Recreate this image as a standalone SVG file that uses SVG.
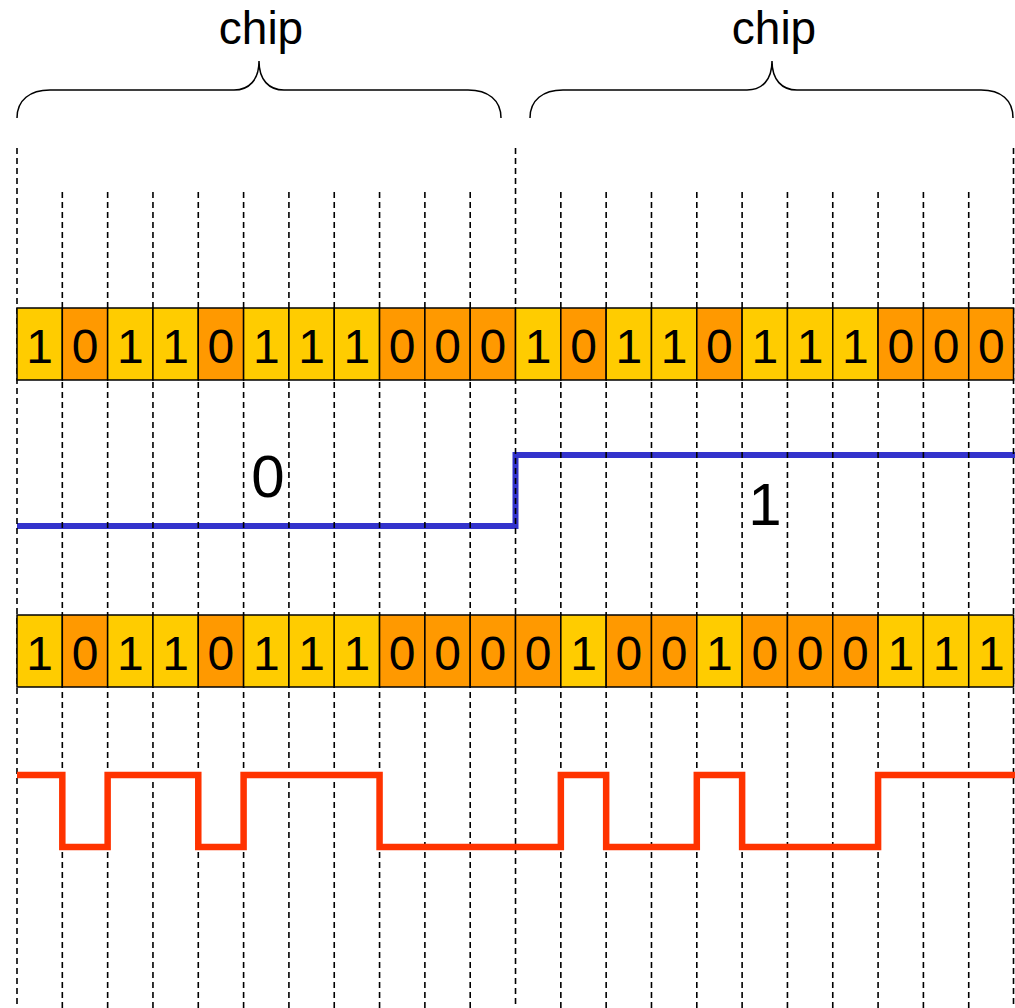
<svg xmlns="http://www.w3.org/2000/svg" width="1015" height="1008" viewBox="0 0 1015 1008">
<style>
text{font-family:"Liberation Sans",Arial,sans-serif;fill:#000;text-anchor:middle}
.bit{font-size:48px}
.lbl{font-size:60px}
.chip{font-size:46px}
.y{fill:#FFCC00;stroke:#000;stroke-width:1.5}
.o{fill:#FF9900;stroke:#000;stroke-width:1.5}
.dash{stroke:#000;stroke-width:1.6;stroke-dasharray:6,4;fill:none}
.brace{fill:none;stroke:#000;stroke-width:1.5}
</style>
<rect width="1015" height="1008" fill="#fff"/>
<g id="labels-top">
<text class="chip" x="261" y="44">chip</text>
<text class="chip" x="774" y="44">chip</text>
<path class="brace" d="M17,118 C17,100 30,90 50,90 L234,90 C249,90 259,80 259,61 C259,80 269,90 284,90 L468,90 C488,90 501,100 501,118"/>
<path class="brace" d="M530,118 C530,100 543,90 563,90 L747,90 C762,90 772,80 772,61 C772,80 782,90 797,90 L981,90 C1001,90 1013,100 1013,118"/>
</g>
<g id="data-signal">
<path d="M17,526 H515.5 V455 H1015" fill="none" stroke="#3333CC" stroke-width="6"/>
<text class="lbl" x="268" y="497">0</text>
<text class="lbl" x="765" y="525">1</text>
</g>
<g id="connectors">
<line class="dash" x1="17" y1="148" x2="17" y2="1008"/>
<line class="dash" x1="62.32" y1="192" x2="62.32" y2="1008"/>
<line class="dash" x1="107.64" y1="192" x2="107.64" y2="1008"/>
<line class="dash" x1="152.96" y1="192" x2="152.96" y2="1008"/>
<line class="dash" x1="198.28" y1="192" x2="198.28" y2="1008"/>
<line class="dash" x1="243.6" y1="192" x2="243.6" y2="1008"/>
<line class="dash" x1="288.92" y1="192" x2="288.92" y2="1008"/>
<line class="dash" x1="334.24" y1="192" x2="334.24" y2="1008"/>
<line class="dash" x1="379.56" y1="192" x2="379.56" y2="1008"/>
<line class="dash" x1="424.88" y1="192" x2="424.88" y2="1008"/>
<line class="dash" x1="470.2" y1="192" x2="470.2" y2="1008"/>
<line class="dash" x1="515.52" y1="148" x2="515.52" y2="1008"/>
<line class="dash" x1="560.84" y1="192" x2="560.84" y2="1008"/>
<line class="dash" x1="606.16" y1="192" x2="606.16" y2="1008"/>
<line class="dash" x1="651.48" y1="192" x2="651.48" y2="1008"/>
<line class="dash" x1="696.8" y1="192" x2="696.8" y2="1008"/>
<line class="dash" x1="742.12" y1="192" x2="742.12" y2="1008"/>
<line class="dash" x1="787.44" y1="192" x2="787.44" y2="1008"/>
<line class="dash" x1="832.76" y1="192" x2="832.76" y2="1008"/>
<line class="dash" x1="878.08" y1="192" x2="878.08" y2="1008"/>
<line class="dash" x1="923.4" y1="192" x2="923.4" y2="1008"/>
<line class="dash" x1="968.72" y1="192" x2="968.72" y2="1008"/>
<line class="dash" x1="1013.5" y1="148" x2="1013.5" y2="1008"/>
</g>
<g id="chip-signal">
<path d="M17,775 H62.32 V847 H107.64 V775 H198.28 V847 H243.6 V775 H379.56 V847 H560.84 V775 H606.16 V847 H696.8 V775 H742.12 V847 H878.08 V775 H1015" fill="none" stroke="#FF3300" stroke-width="6.5"/>
</g>
<g id="row1">
<rect class="y" x="17" y="308" width="45.32" height="72"/><text class="bit" x="39.66" y="363">1</text>
<rect class="o" x="62.32" y="308" width="45.32" height="72"/><text class="bit" x="84.98" y="363">0</text>
<rect class="y" x="107.64" y="308" width="45.32" height="72"/><text class="bit" x="130.3" y="363">1</text>
<rect class="y" x="152.96" y="308" width="45.32" height="72"/><text class="bit" x="175.62" y="363">1</text>
<rect class="o" x="198.28" y="308" width="45.32" height="72"/><text class="bit" x="220.94" y="363">0</text>
<rect class="y" x="243.6" y="308" width="45.32" height="72"/><text class="bit" x="266.26" y="363">1</text>
<rect class="y" x="288.92" y="308" width="45.32" height="72"/><text class="bit" x="311.58" y="363">1</text>
<rect class="y" x="334.24" y="308" width="45.32" height="72"/><text class="bit" x="356.9" y="363">1</text>
<rect class="o" x="379.56" y="308" width="45.32" height="72"/><text class="bit" x="402.22" y="363">0</text>
<rect class="o" x="424.88" y="308" width="45.32" height="72"/><text class="bit" x="447.54" y="363">0</text>
<rect class="o" x="470.2" y="308" width="45.32" height="72"/><text class="bit" x="492.86" y="363">0</text>
<rect class="y" x="515.52" y="308" width="45.32" height="72"/><text class="bit" x="538.18" y="363">1</text>
<rect class="o" x="560.84" y="308" width="45.32" height="72"/><text class="bit" x="583.5" y="363">0</text>
<rect class="y" x="606.16" y="308" width="45.32" height="72"/><text class="bit" x="628.82" y="363">1</text>
<rect class="y" x="651.48" y="308" width="45.32" height="72"/><text class="bit" x="674.14" y="363">1</text>
<rect class="o" x="696.8" y="308" width="45.32" height="72"/><text class="bit" x="719.46" y="363">0</text>
<rect class="y" x="742.12" y="308" width="45.32" height="72"/><text class="bit" x="764.78" y="363">1</text>
<rect class="y" x="787.44" y="308" width="45.32" height="72"/><text class="bit" x="810.1" y="363">1</text>
<rect class="y" x="832.76" y="308" width="45.32" height="72"/><text class="bit" x="855.42" y="363">1</text>
<rect class="o" x="878.08" y="308" width="45.32" height="72"/><text class="bit" x="900.74" y="363">0</text>
<rect class="o" x="923.4" y="308" width="45.32" height="72"/><text class="bit" x="946.06" y="363">0</text>
<rect class="o" x="968.72" y="308" width="44.8" height="72"/><text class="bit" x="991.38" y="363">0</text>
</g>
<g id="row2">
<rect class="y" x="17" y="615" width="45.32" height="72"/><text class="bit" x="39.66" y="670">1</text>
<rect class="o" x="62.32" y="615" width="45.32" height="72"/><text class="bit" x="84.98" y="670">0</text>
<rect class="y" x="107.64" y="615" width="45.32" height="72"/><text class="bit" x="130.3" y="670">1</text>
<rect class="y" x="152.96" y="615" width="45.32" height="72"/><text class="bit" x="175.62" y="670">1</text>
<rect class="o" x="198.28" y="615" width="45.32" height="72"/><text class="bit" x="220.94" y="670">0</text>
<rect class="y" x="243.6" y="615" width="45.32" height="72"/><text class="bit" x="266.26" y="670">1</text>
<rect class="y" x="288.92" y="615" width="45.32" height="72"/><text class="bit" x="311.58" y="670">1</text>
<rect class="y" x="334.24" y="615" width="45.32" height="72"/><text class="bit" x="356.9" y="670">1</text>
<rect class="o" x="379.56" y="615" width="45.32" height="72"/><text class="bit" x="402.22" y="670">0</text>
<rect class="o" x="424.88" y="615" width="45.32" height="72"/><text class="bit" x="447.54" y="670">0</text>
<rect class="o" x="470.2" y="615" width="45.32" height="72"/><text class="bit" x="492.86" y="670">0</text>
<rect class="o" x="515.52" y="615" width="45.32" height="72"/><text class="bit" x="538.18" y="670">0</text>
<rect class="y" x="560.84" y="615" width="45.32" height="72"/><text class="bit" x="583.5" y="670">1</text>
<rect class="o" x="606.16" y="615" width="45.32" height="72"/><text class="bit" x="628.82" y="670">0</text>
<rect class="o" x="651.48" y="615" width="45.32" height="72"/><text class="bit" x="674.14" y="670">0</text>
<rect class="y" x="696.8" y="615" width="45.32" height="72"/><text class="bit" x="719.46" y="670">1</text>
<rect class="o" x="742.12" y="615" width="45.32" height="72"/><text class="bit" x="764.78" y="670">0</text>
<rect class="o" x="787.44" y="615" width="45.32" height="72"/><text class="bit" x="810.1" y="670">0</text>
<rect class="o" x="832.76" y="615" width="45.32" height="72"/><text class="bit" x="855.42" y="670">0</text>
<rect class="y" x="878.08" y="615" width="45.32" height="72"/><text class="bit" x="900.74" y="670">1</text>
<rect class="y" x="923.4" y="615" width="45.32" height="72"/><text class="bit" x="946.06" y="670">1</text>
<rect class="y" x="968.72" y="615" width="44.8" height="72"/><text class="bit" x="991.38" y="670">1</text>
</g>
</svg>
